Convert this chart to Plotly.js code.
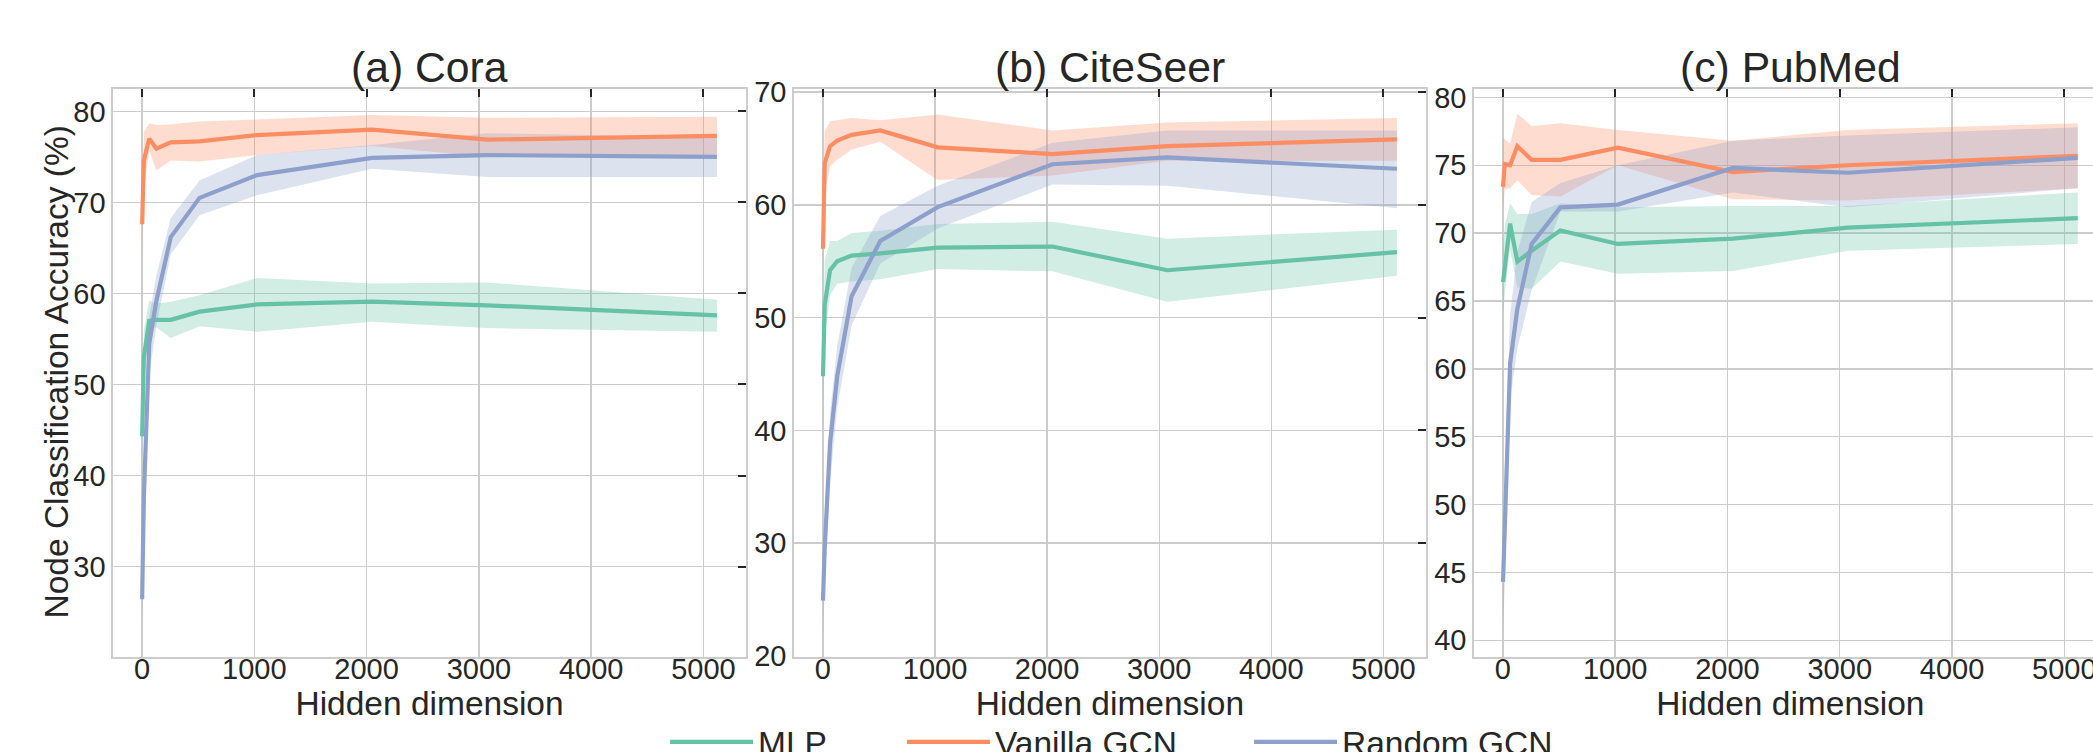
<!DOCTYPE html>
<html>
<head>
<meta charset="utf-8">
<script src="https://cdn.plot.ly/plotly-3.0.1.min.js"></script>
<style>
html, body { margin: 0; padding: 0; overflow: hidden; background: #ffffff; }
#chart { width: 2130px; height: 780px; }
</style>
</head>
<body>
<div id="chart"></div>
<script>
// ---------------- data ----------------
const hidden = [1, 16, 64, 128, 256, 512, 1024, 2048, 3072, 5120];
const seriesNames = ["MLP", "Vanilla GCN", "Random GCN"];
const panelTitles = ["(a) Cora", "(b) CiteSeer", "(c) PubMed"];
const xTitle = "Hidden dimension";
const yTitle = "Node Classification Accuracy (%)";

// Cora
const mlpCora     = [44.3, 53.0, 57.0, 57.1, 57.1, 58.0, 58.8, 59.1, 58.7, 57.6];
const mlpCoraLo   = [40.5, 50.0, 56.0, 56.3, 55.1, 56.4, 55.8, 56.9, 56.2, 55.8];
const mlpCoraHi   = [47.5, 56.0, 59.2, 58.9, 59.1, 59.8, 61.7, 61.1, 61.2, 59.3];
const gcnCora     = [67.6, 74.6, 77.0, 75.9, 76.6, 76.7, 77.4, 78.0, 76.9, 77.3];
const gcnCoraLo   = [63.6, 71.5, 75.7, 73.5, 74.6, 74.5, 75.2, 76.2, 75.0, 75.2];
const gcnCoraHi   = [70.5, 77.7, 78.7, 78.5, 78.6, 78.9, 79.1, 79.6, 79.3, 79.4];
const rndCora     = [26.4, 37.5, 54.5, 59.2, 66.2, 70.5, 73.0, 74.9, 75.2, 75.0];
const rndCoraLo   = [22.8, 33.0, 51.0, 56.5, 64.3, 68.6, 70.8, 73.7, 72.8, 72.8];
const rndCoraHi   = [30.0, 42.0, 57.5, 62.0, 68.3, 72.4, 75.2, 76.3, 77.6, 77.2];

// CiteSeer
const mlpCite     = [44.8, 51.1, 54.2, 55.0, 55.5, 55.7, 56.2, 56.3, 54.2, 55.8];
const mlpCiteLo   = [40.1, 48.0, 52.0, 53.0, 53.2, 53.4, 54.3, 54.1, 51.4, 53.7];
const mlpCiteHi   = [47.5, 55.0, 56.8, 56.8, 57.5, 57.7, 58.3, 58.5, 57.0, 57.8];
const gcnCite     = [56.1, 63.7, 65.2, 65.7, 66.2, 66.6, 65.1, 64.5, 65.2, 65.8];
const gcnCiteLo   = [53.4, 61.0, 63.4, 64.0, 64.9, 65.6, 62.2, 62.6, 63.9, 63.9];
const gcnCiteHi   = [59.0, 66.5, 67.4, 67.5, 67.7, 67.5, 68.0, 66.6, 67.3, 67.7];
const rndCite     = [24.9, 29.5, 38.9, 44.8, 51.9, 56.8, 59.8, 63.6, 64.2, 63.2];
const rndCiteLo   = [22.0, 26.5, 35.5, 42.0, 49.3, 54.8, 57.9, 61.8, 61.7, 59.7];
const rndCiteHi   = [27.0, 32.0, 41.5, 47.5, 54.4, 59.0, 61.7, 65.5, 66.6, 66.6];

// PubMed
const mlpPub      = [66.4, 67.5, 70.7, 67.9, 68.7, 70.2, 69.2, 69.6, 70.4, 71.1];
const mlpPubLo    = [63.9, 65.5, 68.8, 66.0, 65.9, 67.9, 67.0, 67.2, 68.7, 69.2];
const mlpPubHi    = [68.9, 70.5, 72.2, 71.4, 71.4, 72.2, 71.9, 72.0, 72.0, 73.0];
const gcnPub      = [73.4, 75.1, 75.0, 76.4, 75.4, 75.4, 76.3, 74.5, 75.0, 75.7];
const gcnPubLo    = [71.6, 73.2, 73.3, 73.9, 72.8, 72.7, 75.0, 72.5, 72.4, 73.3];
const gcnPubHi    = [77.1, 76.9, 76.6, 78.8, 77.9, 78.1, 77.6, 76.8, 77.6, 78.1];
const rndPub      = [44.3, 48.0, 60.4, 64.4, 69.2, 71.9, 72.1, 74.8, 74.45, 75.55];
const rndPubLo    = [40.7, 44.0, 57.7, 61.5, 65.8, 71.6, 71.6, 73.0, 71.9, 73.3];
const rndPubHi    = [48.0, 52.5, 64.0, 68.6, 72.3, 73.7, 75.0, 76.8, 77.2, 77.8];

const xTickVals = [0, 1000, 2000, 3000, 4000, 5000];
const yTicksA = [30, 40, 50, 60, 70, 80];
const yTicksB = [20, 30, 40, 50, 60, 70];
const yTicksC = [40, 45, 50, 55, 60, 65, 70, 75, 80];

// ---------------- style ----------------
const W = 2130, H = 780;
const colors = ["#66c2a5", "#fc8d62", "#8da0cb"];
const fills = ["rgba(102,194,165,0.3)", "rgba(252,141,98,0.3)", "rgba(141,160,203,0.3)"];
const FONT = "Liberation Sans, Arial, Helvetica, sans-serif";
const TXT = "#262626";
const fx = p => p / W;
const fy = p => (H - p) / H;

const panels = [
  {xd: [113.4, 745.7],  yr: [20.12, 82.46], yt: yTicksA,
   data: [[mlpCora, mlpCoraLo, mlpCoraHi], [gcnCora, gcnCoraLo, gcnCoraHi], [rndCora, rndCoraLo, rndCoraHi]]},
  {xd: [794.3, 1425.6], yr: [19.95, 70.27], yt: yTicksB,
   data: [[mlpCite, mlpCiteLo, mlpCiteHi], [gcnCite, gcnCiteLo, gcnCiteHi], [rndCite, rndCiteLo, rndCiteHi]]},
  {xd: [1474.3, 2106.5], yr: [38.8, 80.62], yt: yTicksC,
   data: [[mlpPub, mlpPubLo, mlpPubHi], [gcnPub, gcnPubLo, gcnPubHi], [rndPub, rndPubLo, rndPubHi]]}
];
const xRange = [-255, 5376];
const yDomain = [fy(656.5), fy(89)];

const traces = [];
panels.forEach((p, pi) => {
  const mx = "x" + (pi === 0 ? "" : pi + 1), my = "y" + (pi === 0 ? "" : pi + 1);
  const ox = "x" + (pi + 4), oy = "y" + (pi + 4);
  // shaded bands on the main axes
  p.data.forEach((s, si) => {
    const lo = s[1], hi = s[2];
    traces.push({
      type: "scatter", mode: "lines", xaxis: mx, yaxis: my,
      x: hidden.concat(hidden.slice().reverse()),
      y: hi.concat(lo.slice().reverse()),
      fill: "toself", fillcolor: fills[si], line: {width: 0, color: fills[si]},
      hoverinfo: "skip", showlegend: false
    });
  });
  // mean lines on the twin axes (same ranges; these axes carry the top/right tick marks)
  p.data.forEach((s, si) => {
    traces.push({
      type: "scatter", mode: "lines", xaxis: ox, yaxis: oy,
      x: hidden, y: s[0], name: seriesNames[si],
      line: {color: colors[si], width: 4.2},
      legend: si === 0 ? "legend" : (si === 1 ? "legend2" : "legend3"),
      showlegend: pi === 0
    });
  });
});

const layout = {
  width: W, height: H,
  margin: {l: 0, r: 0, t: 0, b: 0},
  paper_bgcolor: "#ffffff", plot_bgcolor: "#ffffff",
  font: {family: FONT, color: TXT, size: 29},
  annotations: []
};

panels.forEach((p, pi) => {
  const xi = pi === 0 ? "" : String(pi + 1);
  const mx = "x" + xi, my = "y" + xi;
  const oi = String(pi + 4);
  layout["xaxis" + xi] = {
    domain: [fx(p.xd[0]), fx(p.xd[1])], anchor: my, range: xRange,
    tickvals: xTickVals, ticktext: xTickVals.map(String), ticks: "",
    ticklabelstandoff: -14,
    showgrid: true, gridcolor: "#cccccc", gridwidth: 1.4,
    zeroline: false, showline: true, mirror: true, linecolor: "#cccccc", linewidth: 2,
    tickfont: {family: FONT, size: 29, color: TXT},
    title: {text: xTitle, font: {family: FONT, size: 33.5, color: TXT}, standoff: 0},
    automargin: false
  };
  layout["yaxis" + xi] = {
    domain: yDomain, anchor: mx, range: p.yr,
    tickvals: p.yt, ticktext: p.yt.map(String), ticks: "",
    showgrid: true, gridcolor: "#cccccc", gridwidth: 1.4,
    zeroline: false, showline: true, mirror: true, linecolor: "#cccccc", linewidth: 2,
    tickfont: {family: FONT, size: 29, color: TXT},
    automargin: false
  };
  // twin axes: inner tick marks on the top and right edges
  layout["xaxis" + oi] = {
    overlaying: mx, anchor: my, side: "top", range: xRange,
    tickvals: xTickVals, ticks: "inside", ticklen: 8, tickwidth: 2, tickcolor: TXT,
    showticklabels: false, showgrid: false, zeroline: false, showline: false
  };
  layout["yaxis" + oi] = {
    overlaying: my, anchor: mx, side: "right", range: p.yr,
    tickvals: p.yt, ticks: "inside", ticklen: 8, tickwidth: 2, tickcolor: TXT,
    showticklabels: false, showgrid: false, zeroline: false, showline: false
  };
  layout.annotations.push({
    xref: "paper", yref: "paper",
    x: fx((p.xd[0] + p.xd[1]) / 2), y: fy(67),
    xanchor: "center", yanchor: "middle", showarrow: false,
    text: panelTitles[pi], font: {family: FONT, size: 42.7, color: TXT}
  });
});

// y-axis title of the first panel
layout.annotations.push({
  xref: "paper", yref: "paper", x: fx(56), y: fy(372.5),
  xanchor: "center", yanchor: "middle", showarrow: false, textangle: -90,
  text: yTitle, font: {family: FONT, size: 33.5, color: TXT}
});

const legendBase = {
  orientation: "h", xanchor: "left", yanchor: "middle", y: fy(742),
  bgcolor: "rgba(0,0,0,0)", borderwidth: 0, itemwidth: 83,
  font: {family: FONT, size: 33.5, color: TXT}
};
layout.legend  = Object.assign({}, legendBase, {x: fx(665)});
layout.legend2 = Object.assign({}, legendBase, {x: fx(902)});
layout.legend3 = Object.assign({}, legendBase, {x: fx(1249)});

Plotly.newPlot("chart", traces, layout, {staticPlot: true, displayModeBar: false});
</script>
</body>
</html>
